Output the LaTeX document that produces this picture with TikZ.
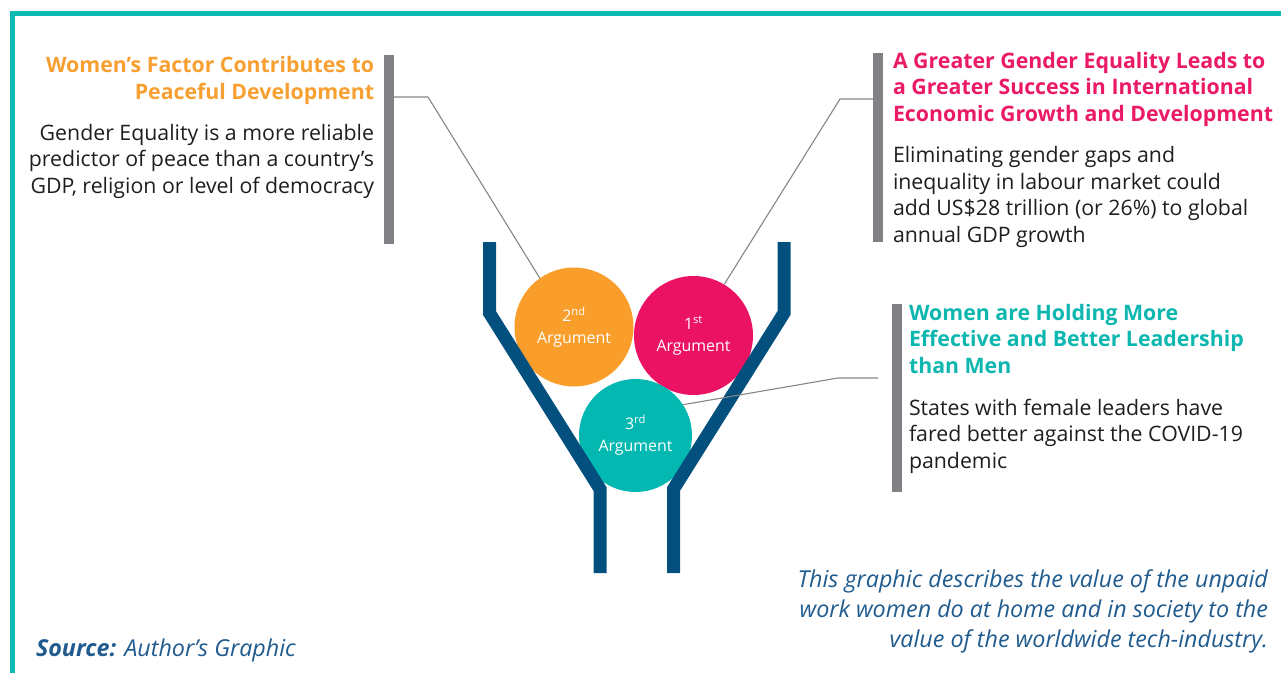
\documentclass[tikz,border=0pt]{standalone}
\usepackage{fontspec}
\setmainfont{Open Sans}
\definecolor{frameteal}{HTML}{0DBBB5}
\definecolor{barGrey}{HTML}{808085}
\definecolor{lineGrey}{HTML}{858585}
\definecolor{funnelBlue}{HTML}{03507F}
\definecolor{argOrange}{HTML}{F99E2B}
\definecolor{argPink}{HTML}{EC1263}
\definecolor{argTeal}{HTML}{02B8B1}
\definecolor{ttlOrange}{HTML}{F7A031}
\definecolor{ttlPink}{HTML}{EA1A66}
\definecolor{ttlTeal}{HTML}{0DB7B0}
\definecolor{bodyText}{HTML}{1E1E1E}
\definecolor{footBlue}{HTML}{1F5B8E}
\begin{document}
\begin{tikzpicture}[x=1pt,y=-1pt,
  every node/.style={inner sep=0pt, outer sep=0pt},
  ttl/.style={font=\fontsize{21.3}{26.5}\selectfont\bfseries},
  bodytxt/.style={font=\fontsize{21.3}{26.5}\selectfont, text=bodyText},
  arg/.style={circle, minimum size=#1, text=white, align=center, font=\fontsize{15.9}{22}\selectfont},
  greybar/.style={fill=barGrey, draw=none, minimum width=10pt, minimum height=#1, rectangle},
  conn/.style={draw=lineGrey, line width=1.1pt},
  funnel/.style={draw=funnelBlue, line width=13pt, miter limit=10},
  foot/.style={font=\fontsize{23.3}{30}\selectfont\itshape, text=footBlue}]
\useasboundingbox (0,0) rectangle (1281,672);
% frame
\draw[frameteal, line width=5pt] (12.5,675) -- (12.5,13) -- (1285,13);
% grey bars
\node[greybar=189pt] (barL) at (389,149.5) {};
\node[greybar=189pt] (barR) at (878,147.5) {};
\node[greybar=188pt] (barT) at (897,398) {};
% circles
\node[arg=119pt, fill=argOrange] (c2) at (574,327) {2\textsuperscript{nd}\\Argument};
\node[arg=119pt, fill=argPink] (c1) at (693.5,335.5) {1\textsuperscript{st}\\Argument};
\node[arg=113pt, fill=argTeal] (c3) at (635.5,435.5) {3\textsuperscript{rd}\\Argument};
% funnel
\draw[funnel] (489.5,242) -- (489.5,313) -- (600,489) -- (600,573);
\draw[funnel] (784,242) -- (784,313) -- (673.5,489) -- (673.5,573);
% connectors
\coordinate (eL) at (428,97);
\coordinate (eR) at (840,99);
\coordinate (eT) at (838,378);
\coordinate (sT) at (878,378);
\draw[conn] (barL.east |- eL) -- (eL) -- (c2.125);
\draw[conn] (barR.west |- eR) -- (eR) -- (c1.59);
\draw[conn] (sT) -- (eT) -- (c3.33);
% left block
\node[ttl, text=ttlOrange, align=right, anchor=base east] (tL) at (374,99) {Women’s Factor Contributes to\\Peaceful Development};
\node[bodytxt, align=right, anchor=base east] (bL) at (374,193) {Gender Equality is a more reliable\\predictor of peace than a country’s\\GDP, religion or level of democracy};
% right block
\node[ttl, text=ttlPink, align=left, anchor=base west] (tR) at (893,121) {A Greater Gender Equality Leads to\\a Greater Success in International\\Economic Growth and Development};
\node[bodytxt, align=left, anchor=base west] (bR) at (893,242) {Eliminating gender gaps and\\inequality in labour market could\\add US\$28 trillion (or 26\%) to global\\annual GDP growth};
% third block
\node[ttl, text=ttlTeal, align=left, anchor=base west] (tT) at (909,373) {Women are Holding More\\Effective and Better Leadership\\than Men};
\node[bodytxt, align=left, anchor=base west] (bT) at (909,468) {States with female leaders have\\fared better against the COVID-19\\pandemic};
% footers
\node[foot, anchor=base west] (src) at (36,656) {\textbf{Source:} Author’s Graphic};
\node[foot, align=right, anchor=base east] (note) at (1268,647) {This graphic describes the value of the unpaid\\work women do at home and in society to the\\value of the worldwide tech-industry.};
\end{tikzpicture}
\end{document}
